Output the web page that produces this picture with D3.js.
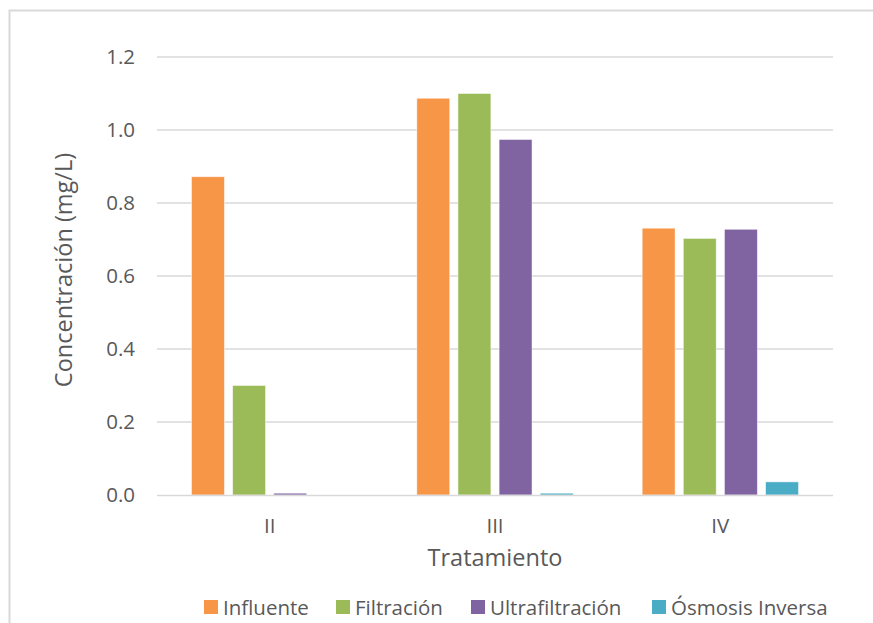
<!DOCTYPE html>
<html>
<head>
<meta charset="utf-8">
<script src="https://cdn.jsdelivr.net/npm/d3@7"></script>
<style>
  html, body { margin: 0; padding: 0; background: #fff; }
  svg { display: block; }
  text { font-family: "Open Sans", "Noto Sans", sans-serif; fill: #595959; }
</style>
</head>
<body>
<svg id="chart" width="873" height="623"></svg>
<script>
const categories = ["II", "III", "IV"];
const series = ["Influente", "Filtración", "Ultrafiltración", "Ósmosis Inversa"];
const influente = [0.872, 1.087, 0.731];
const filtracion = [0.300, 1.100, 0.703];
const ultrafiltracion = [0.005, 0.974, 0.728];
const osmosis = [0.000, 0.005, 0.036];
const yTicks = [0, 0.2, 0.4, 0.6, 0.8, 1.0, 1.2];
const colors = ["#F79646", "#9BBB59", "#8064A2", "#4BACC6"];
const values = [influente, filtracion, ultrafiltracion, osmosis];

const svg = d3.select("#chart");
const tickFont = 20.5, titleFont = 23.5;

// outer chart border
svg.append("rect").attr("x", 9.5).attr("y", 10.5).attr("width", 900).attr("height", 700)
  .attr("fill", "#fff").attr("stroke", "#D9D9D9").attr("stroke-width", 2);

const plot = { left: 157, right: 833, top: 57, bottom: 495 };

const x = d3.scaleBand().domain(categories).range([plot.left, plot.right]).paddingInner(0).paddingOuter(0);
const x1 = d3.scaleBand().domain(series).range([34.5, x.bandwidth() - 34.5]).paddingInner(0.2).paddingOuter(0);
const y = d3.scaleLinear().domain([0, 1.2]).range([plot.bottom, plot.top]);

// gridlines
svg.append("g").selectAll("line").data(yTicks.slice(1)).join("line")
  .attr("x1", plot.left).attr("x2", plot.right)
  .attr("y1", d => y(d)).attr("y2", d => y(d))
  .attr("stroke", "#D9D9D9").attr("stroke-width", 1.3);

// y axis labels
const yAxis = d3.axisLeft(y).tickValues(yTicks).tickFormat(d3.format(".1f")).tickSize(0).tickPadding(22);
const gy = svg.append("g").attr("transform", `translate(${plot.left},0)`).call(yAxis);
gy.select(".domain").remove();
gy.selectAll("text").attr("font-size", tickFont).style("font-family", '"Open Sans", sans-serif').attr("fill", "#595959");

// bars
const groups = svg.append("g").selectAll("g").data(categories).join("g")
  .attr("transform", d => `translate(${x(d)},0)`);
groups.selectAll("rect").data((d, i) => series.map((s, j) => ({ s, j, v: values[j][i] })))
  .join("rect")
  .attr("x", d => x1(d.s))
  .attr("width", x1.bandwidth())
  .attr("y", d => y(d.v))
  .attr("height", d => y(0) - y(d.v))
  .attr("fill", d => colors[d.j])
  .attr("stroke", "#fff").attr("stroke-opacity", 0.6).attr("stroke-width", 0.8);

// x axis line
svg.append("line").attr("x1", plot.left).attr("x2", plot.right)
  .attr("y1", y(0) + 0.5).attr("y2", y(0) + 0.5)
  .attr("stroke", "#D9D9D9").attr("stroke-width", 1.5);

// x axis labels
const xAxis = d3.axisBottom(x).tickSize(0).tickPadding(23);
const gx = svg.append("g").attr("transform", `translate(0,${plot.bottom})`).call(xAxis);
gx.select(".domain").remove();
gx.selectAll("text").attr("font-size", tickFont).style("font-family", '"Open Sans", sans-serif').attr("fill", "#595959");

// axis titles
svg.append("text").attr("x", (plot.left + plot.right) / 2).attr("y", 566)
  .attr("text-anchor", "middle").attr("font-size", titleFont).text("Tratamiento");
svg.append("text").attr("transform", `translate(72,270) rotate(-90)`)
  .attr("text-anchor", "middle").attr("font-size", titleFont).text("Concentración (mg/L)");

// legend
const legendX = [204, 336, 471, 652];
const leg = svg.append("g").selectAll("g").data(series).join("g")
  .attr("transform", (d, i) => `translate(${legendX[i]},600)`);
leg.append("rect").attr("width", 14).attr("height", 14).attr("fill", (d, i) => colors[i]);
leg.append("text").attr("x", 19).attr("y", 14.5).attr("font-size", tickFont).text(d => d);
</script>
</body>
</html>
